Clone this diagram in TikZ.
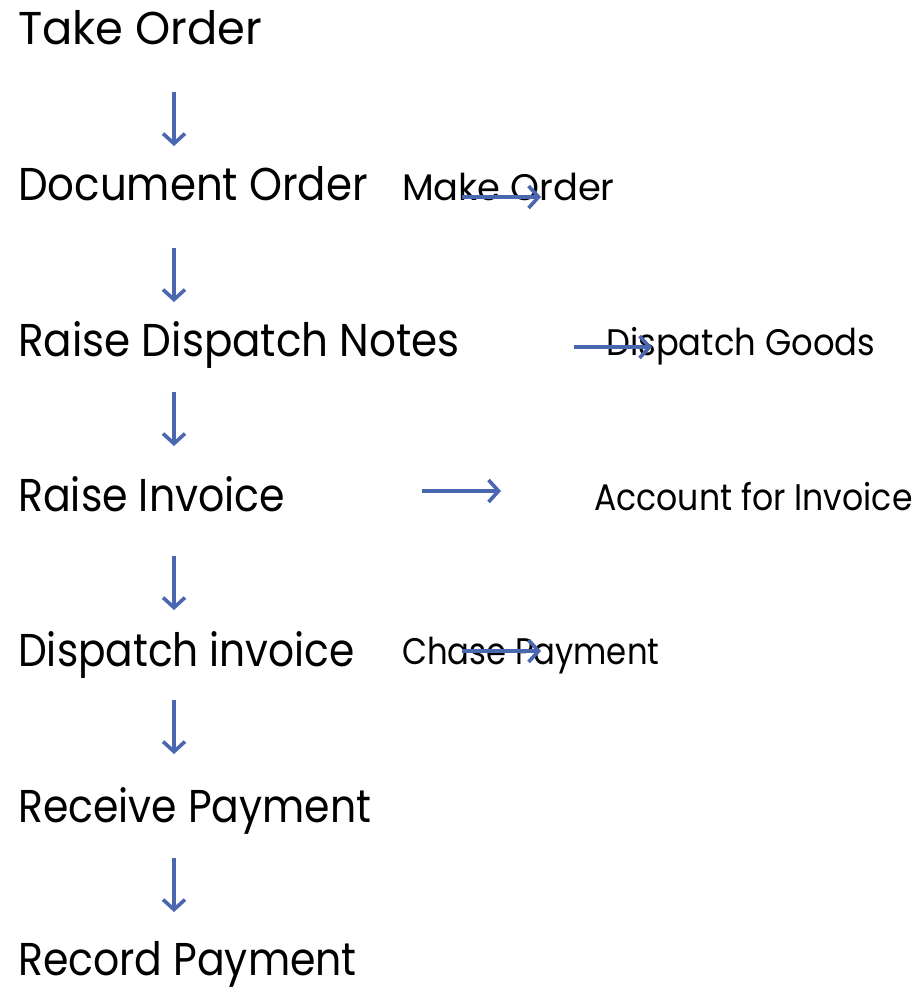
\documentclass[tikz,border=0pt]{standalone}
\usepackage{fontspec}
\usepackage{graphicx}
\setmainfont[FakeStretch=0.93]{Poppins}
\usetikzlibrary{arrows.meta}
\definecolor{flowblue}{HTML}{4A67B0}
% horizontal-only scaling of a label
\newcommand\hstretch[2]{\scalebox{#1}[1]{#2}}
\tikzset{
  steplabel/.style={anchor=base west, inner sep=0pt, font=\fontsize{46}{50}\selectfont},
  sidelabel/.style={anchor=base west, inner sep=0pt, font=\fontsize{37}{40}\selectfont},
  flow/.style={draw=flowblue, line width=3.8pt, -{Straight Barb[length=10pt, width=22pt, line width=3.6pt]}}
}
\begin{document}
\begin{tikzpicture}[x=1pt, y=-1pt]
\useasboundingbox (0,0) rectangle (916,989);

% main process steps
\node[steplabel] (take)     at (18,44)  {\hstretch{1.047}{Take Order}};
\node[steplabel] (doc)      at (18,200) {\hstretch{0.980}{Document Order}};
\node[steplabel] (raise)    at (18,356) {\hstretch{0.984}{Raise Dispatch Notes}};
\node[steplabel] (invoice)  at (18,511) {\hstretch{0.960}{Raise Invoice}};
\node[steplabel] (dispinv)  at (18,666) {\hstretch{0.952}{Dispatch invoice}};
\node[steplabel] (receive)  at (18,822) {\hstretch{0.957}{Receive Payment}};
\node[steplabel] (record)   at (18,975) {\hstretch{0.958}{Record Payment}};

% side activities
\node[sidelabel] (make)     at (402,200) {\hstretch{1.071}{Make Order}};
\node[sidelabel] (goods)    at (606,355) {\hstretch{0.982}{Dispatch Goods}};
\node[sidelabel] (account)  at (594,510) {\hstretch{0.963}{Account for Invoice}};
\node[sidelabel] (chase)    at (402,664) {\hstretch{0.938}{Chase Payment}};

% arrow end points
\coordinate (v1a) at (174,92);  \coordinate (v1b) at (174,146);
\coordinate (v2a) at (174,248); \coordinate (v2b) at (174,302);
\coordinate (v3a) at (174,392); \coordinate (v3b) at (174,446);
\coordinate (v4a) at (174,556); \coordinate (v4b) at (174,610);
\coordinate (v5a) at (174,700); \coordinate (v5b) at (174,754);
\coordinate (v6a) at (174,858); \coordinate (v6b) at (174,912);
\coordinate (h1a) at (462,197); \coordinate (h1b) at (541,197);
\coordinate (h2a) at (574,347); \coordinate (h2b) at (652,347);
\coordinate (h3a) at (422,491); \coordinate (h3b) at (501,491);
\coordinate (h4a) at (462,651); \coordinate (h4b) at (541,651);

\draw[flow] (v1a) -- (v1b);
\draw[flow] (v2a) -- (v2b);
\draw[flow] (v3a) -- (v3b);
\draw[flow] (v4a) -- (v4b);
\draw[flow] (v5a) -- (v5b);
\draw[flow] (v6a) -- (v6b);
\draw[flow] (h1a) -- (h1b);
\draw[flow] (h2a) -- (h2b);
\draw[flow] (h3a) -- (h3b);
\draw[flow] (h4a) -- (h4b);
\end{tikzpicture}
\end{document}
